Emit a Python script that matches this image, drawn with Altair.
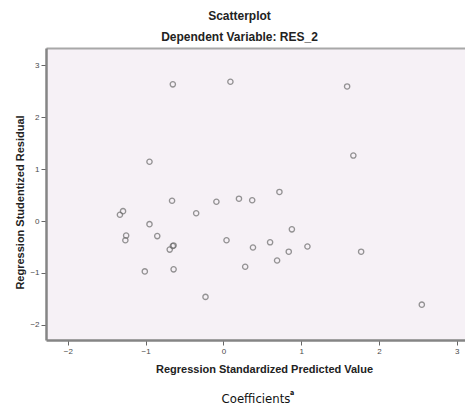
import altair as alt
import pandas as pd

pred = [-0.65, 0.09, -0.95, 1.59, 1.67, 0.72, -0.66, -0.09, 0.20, 0.37,
        -1.29, -1.33, -0.35, -0.95, -1.25, -1.26, -0.85, -0.64, -0.65, -0.69,
        0.04, 0.38, 0.60, -1.01, -0.64, 0.28, -0.23, 0.88, 0.84, 0.69,
        1.08, 1.77, 2.55]
resid = [2.63, 2.68, 1.14, 2.59, 1.26, 0.56, 0.39, 0.37, 0.43, 0.40,
         0.19, 0.12, 0.15, -0.06, -0.28, -0.37, -0.29, -0.47, -0.48, -0.55,
         -0.37, -0.51, -0.41, -0.97, -0.93, -0.88, -1.46, -0.16, -0.59, -0.76,
         -0.49, -0.59, -1.61]
x_ticks = [-2, -1, 0, 1, 2, 3]
y_ticks = [-2, -1, 0, 1, 2, 3]

df = pd.DataFrame({"pred": pred, "resid": resid})

W, H = 419, 292
xs = alt.Scale(domain=[-2.28, 3.105], nice=False, zero=False)
ys = alt.Scale(domain=[-2.29, 3.33], nice=False, zero=False)

axis_common = dict(grid=False, labelFont="Liberation Sans", labelFontSize=8,
                   labelColor="#4a4a4a", tickColor="#666666", tickSize=5,
                   labelPadding=2, domainColor="#858585", domainWidth=2.5,
                   titleFont="Liberation Sans", titleFontSize=11,
                   titleFontWeight="bold", titleColor="#222222")

points = alt.Chart(df).mark_point(shape="circle", filled=False, size=28,
                                  strokeWidth=1.3, color="#6a6a6a").encode(
    x=alt.X("pred:Q", scale=xs,
            axis=alt.Axis(values=x_ticks, title="Regression Standardized Predicted Value",
                          titleX=218, titleY=29, titleBaseline="middle", **axis_common)),
    y=alt.Y("resid:Q", scale=ys,
            axis=alt.Axis(values=y_ticks, title="Regression Studentized Residual",
                          titleX=-26, titleY=154, titleAngle=-90, titleAlign="center",
                          titleBaseline="middle", **axis_common)),
)

top_border = alt.Chart(df).mark_point(opacity=0).encode(
    x=alt.X("pred:Q", scale=xs,
            axis=alt.Axis(orient="top", labels=False, ticks=False, title=None,
                          grid=False, domainColor="#a8a8a8", domainWidth=2)),
)

caption = alt.Chart(pd.DataFrame({"t": ["Coefficients"]})).mark_text(
    font="DejaVu Sans Condensed", fontSize=13, color="#111111", align="center",
    baseline="middle").encode(text="t:N", x=alt.value(210), y=alt.value(351))

sup = alt.Chart(pd.DataFrame({"t": ["a"]})).mark_text(
    font="DejaVu Sans Condensed", fontSize=7, fontWeight="bold", color="#111111",
    align="left", baseline="middle").encode(text="t:N", x=alt.value(244), y=alt.value(345))

chart = alt.layer(points, top_border, caption, sup).resolve_axis(x="independent").properties(
    width=W, height=H,
    view=alt.ViewBackground(fill="#f6f1f6", stroke=None),
    title=alt.TitleParams(text="Scatterplot", subtitle="Dependent Variable: RES_2",
                          font="Liberation Sans", fontSize=12, fontWeight="bold",
                          color="#222222", subtitleFont="Liberation Sans",
                          subtitleFontSize=12, subtitleFontWeight="bold",
                          subtitleColor="#222222", subtitlePadding=9,
                          anchor="middle", dx=-16, offset=4),
    autosize=alt.AutoSizeParams(type="none"),
    padding={"left": 38, "top": 40, "right": 0, "bottom": 67},
).configure(background="white")

chart.save("out.html", embed_options={"renderer": "svg", "actions": False})
